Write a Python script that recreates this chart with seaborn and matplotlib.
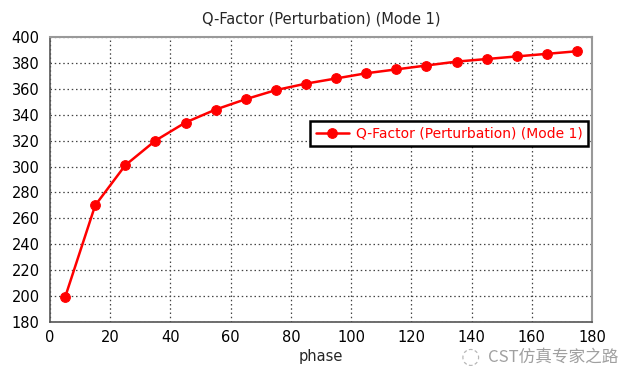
import matplotlib
matplotlib.use('Agg')
import matplotlib.pyplot as plt
import seaborn as sns
import pandas as pd

phase = [5, 15, 25, 35, 45, 55, 65, 75, 85, 95, 105, 115, 125, 135, 145, 155, 165, 175]
q_factor = [199, 270, 301, 320, 334, 344, 352, 359, 364, 368, 372, 375, 378, 381, 383, 385, 387, 389]
series_name = 'Q-Factor (Perturbation) (Mode 1)'

df = pd.DataFrame({'phase': phase, 'q': q_factor})

sns.set_style('white')
plt.rcParams['font.family'] = ['DejaVu Sans', 'Noto Sans CJK SC']

fig = plt.figure(figsize=(6.24, 3.71), dpi=100)
ax = fig.add_axes([50 / 624, 1 - 322 / 371, 542 / 624, 285 / 371])

sns.lineplot(data=df, x='phase', y='q', ax=ax, color='#ff0000', linewidth=1.8,
             marker='o', markersize=7, markeredgecolor='#ff0000', label=series_name)

ax.set_xlim(0, 180)
ax.set_ylim(180, 400)
ax.set_xticks(range(0, 181, 20))
ax.set_yticks(range(180, 401, 20))
ax.grid(True, color='#444444', linestyle=(0, (1.2, 2.2)), linewidth=0.9)
ax.tick_params(axis='both', labelsize=10.5, colors='black', length=4, width=1)
ax.tick_params(axis='x', direction='inout')
ax.tick_params(axis='y', direction='out')
for side in ['left', 'bottom']:
    ax.spines[side].set_color('#555555')
    ax.spines[side].set_linewidth(1.2)
for side in ['top', 'right']:
    ax.spines[side].set_color('#999999')
    ax.spines[side].set_linewidth(1.5)

ax.set_xlabel('phase', fontsize=10.5, labelpad=3)
ax.set_ylabel('')
ax.set_title(series_name, fontsize=10.5, pad=10)

leg = ax.legend(loc='upper right', bbox_to_anchor=(0.993, 0.705), fontsize=10,
                frameon=True, fancybox=False, framealpha=1, handlelength=2.4,
                borderpad=0.4, handletextpad=0.5, borderaxespad=0)
leg.get_frame().set_edgecolor('black')
leg.get_frame().set_linewidth(1.8)
for t in leg.get_texts():
    t.set_color('#ff0000')

fig.text(488 / 624, 1 - 357 / 371, 'CST仿真专家之路', fontsize=12, color='#888888',
         alpha=0.8, family=['Noto Sans CJK SC', 'DejaVu Sans'], va='center')
fig.text(470 / 624, 1 - 357 / 371, '◌', fontsize=16, color='#999999', alpha=0.7,
         va='center', ha='center')

fig.savefig('out.png', dpi=100)
